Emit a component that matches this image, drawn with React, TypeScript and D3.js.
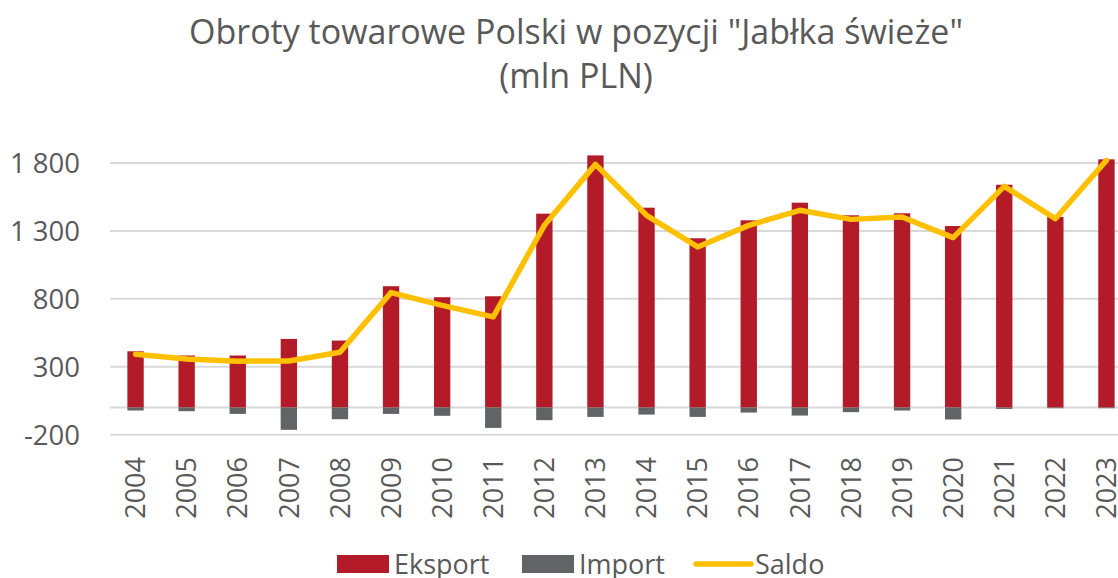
import React from "react";
import * as d3 from "d3";

const years = ["2004","2005","2006","2007","2008","2009","2010","2011","2012","2013","2014","2015","2016","2017","2018","2019","2020","2021","2022","2023"];
const eksport = [414, 383, 383, 505, 493, 893, 812, 819, 1427, 1856, 1471, 1246, 1378, 1508, 1415, 1430, 1336, 1640, 1403, 1827];
const importVals = [-22, -27, -47, -164, -86, -47, -61, -150, -93, -69, -52, -69, -37, -59, -34, -22, -88, -10, -5, -5];
const saldo = [392, 358, 341, 343, 407, 846, 752, 667, 1341, 1790, 1415, 1182, 1341, 1452, 1385, 1403, 1251, 1628, 1390, 1819];
const yTicks = [-200, 300, 800, 1300, 1800];

const W = 1118;
const H = 578;
const FONT = "'Open Sans', sans-serif";
const TEXT = "#595959";
const C_EXP = "#B31B29";
const C_IMP = "#606466";
const C_SAL = "#FFC000";
const GRID = "#D9D9D9";

export default function App() {
  const x = d3.scaleBand<string>().domain(years).range([110, 1132]).paddingInner(0.68).paddingOuter(0.34);
  const y = d3.scaleLinear().domain([-200, 1800]).range([434.7, 163]);
  const fmt = (v: number) => d3.format(",")(v).replace(/,/g, " ").replace("\u2212", "-");
  const line = d3.line<number>()
    .x((_, i) => (x(years[i]) as number) + x.bandwidth() / 2)
    .y((d) => y(d));

  return (
    <svg width={W} height={H} style={{ position: "absolute", left: 0, top: 0, background: "#fff" }} fontFamily={FONT}>
      <text x={576} y={44} textAnchor="middle" fontSize={34} fill={TEXT}>Obroty towarowe Polski w pozycji "Jabłka świeże"</text>
      <text x={576} y={88} textAnchor="middle" fontSize={34} fill={TEXT}>(mln PLN)</text>

      {yTicks.concat([0]).map((t) => (
        <line key={"g" + t} x1={110} x2={W} y1={y(t)} y2={y(t)} stroke={GRID} strokeWidth={2} />
      ))}
      {yTicks.map((t) => (
        <text key={"yl" + t} x={80} y={y(t)} dy="0.36em" textAnchor="end" fontSize={27.5} fill={TEXT}>{fmt(t)}</text>
      ))}

      {years.map((yr, i) => (
        <rect key={"e" + yr} x={x(yr)} width={x.bandwidth()} y={y(eksport[i])} height={y(0) - y(eksport[i])} fill={C_EXP} />
      ))}
      {years.map((yr, i) => (
        <rect key={"i" + yr} x={x(yr)} width={x.bandwidth()} y={y(0)} height={y(importVals[i]) - y(0)} fill={C_IMP} />
      ))}
      <path d={line(saldo) || ""} fill="none" stroke={C_SAL} strokeWidth={5.5} strokeLinejoin="round" strokeLinecap="round" />

      {years.map((yr) => {
        const cx = (x(yr) as number) + x.bandwidth() / 2;
        return (
          <text key={"xl" + yr} transform={`translate(${cx},457) rotate(-90)`} dy="0.36em" textAnchor="end" fontSize={27} fill={TEXT}>{yr}</text>
        );
      })}

      <g>
        <rect x={337} y={555} width={52} height={18} fill={C_EXP} />
        <text x={394} y={564} dy="0.36em" fontSize={27} fill={TEXT}>Eksport</text>
        <rect x={522} y={555} width={52} height={18} fill={C_IMP} />
        <text x={579} y={564} dy="0.36em" fontSize={27} fill={TEXT}>Import</text>
        <line x1={696} x2={751} y1={564} y2={564} stroke={C_SAL} strokeWidth={5.5} strokeLinecap="round" />
        <text x={755} y={564} dy="0.36em" fontSize={27} fill={TEXT}>Saldo</text>
      </g>
    </svg>
  );
}
